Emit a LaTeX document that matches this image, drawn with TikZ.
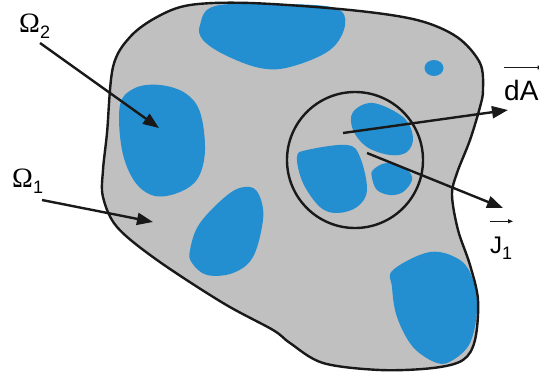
\documentclass[tikz,border=0pt]{standalone}
\usepackage{fontspec}
\setmainfont{Liberation Sans}
\newfontfamily\omegafont{Liberation Serif}
\usepackage{tikz}
\usetikzlibrary{arrows.meta, positioning, calc}
\definecolor{blobblue}{RGB}{36, 143, 208}
\definecolor{bodygray}{RGB}{192, 192, 192}

\begin{document}
\begin{tikzpicture}[
    x=1pt, y=-1pt,
    outline/.style={line width=2.4pt, black!90},
    blob/.style={fill=blobblue},
    lbl/.style={inner sep=0pt, anchor=base west},
    arrow/.style={-{Triangle[length=16pt, width=12pt]}, line width=2.4pt, black!90},
    overarrow/.style={-{Triangle[length=5pt, width=4pt]}, line width=1pt, black!90}
]
\useasboundingbox (0,0) rectangle (539,378);

% body
\fill[bodygray] plot[smooth cycle, tension=0.55] coordinates {
    (190,5) (250,3) (350,10) (417,20) (457,37) (480,63) (483,90) (480,107)
    (470,140) (457,173) (452,195) (458,230) (470,265) (478,300) (475,340)
    (463,360) (433,368) (380,370) (323,363) (290,343) (273,330) (223,303)
    (157,260) (117,227) (103,197) (103,170) (107,133) (113,67) (130,37) (157,17)};

% phase 2 inclusions
\fill[blob] plot[smooth cycle, tension=0.6] coordinates {
    (200,25) (215,6) (280,4) (335,8) (345,25) (330,50) (290,67) (260,68) (225,55) (203,40)};
\fill[blob] plot[smooth cycle, tension=0.6] coordinates {
    (120,105) (135,88) (160,85) (185,93) (200,112) (205,150) (198,178) (180,192)
    (155,196) (135,182) (122,150)};
\fill[blob] plot[smooth cycle, tension=0.6] coordinates {
    (190,250) (200,223) (230,193) (250,187) (260,197) (263,220) (253,257)
    (233,273) (207,275) (192,263)};
\fill[blob] plot[smooth cycle, tension=0.6] coordinates {
    (393,270) (430,252) (460,260) (473,280) (477,310) (470,343) (453,360)
    (437,363) (413,347) (397,317) (392,287)};
\fill[blob] (434,68) ellipse [x radius=9.5, y radius=8];

% inside the element dA
\fill[blob] plot[smooth cycle, tension=0.6] coordinates {
    (353,112) (373,103) (403,117) (413,137) (407,152) (390,155) (367,147) (353,130)};
\fill[blob] plot[smooth cycle, tension=0.6] coordinates {
    (297,157) (307,150) (347,145) (360,157) (367,190) (357,207) (337,213)
    (320,207) (303,183)};
\fill[blob] plot[smooth cycle, tension=0.6] coordinates {
    (373,170) (387,163) (407,170) (412,180) (403,192) (390,195) (377,190) (372,178)};

\draw[outline] plot[smooth cycle, tension=0.55] coordinates {
    (190,5) (250,3) (350,10) (417,20) (457,37) (480,63) (483,90) (480,107)
    (470,140) (457,173) (452,195) (458,230) (470,265) (478,300) (475,340)
    (463,360) (433,368) (380,370) (323,363) (290,343) (273,330) (223,303)
    (157,260) (117,227) (103,197) (103,170) (107,133) (113,67) (130,37) (157,17)};

\node[draw, circle, outline, minimum size=136pt, inner sep=0pt] (elem) at (355,160) {};

% labels
\node[lbl] (omega2) at (19,32) {\fontsize{28}{30}\selectfont{\omegafont Ω}\raisebox{-6pt}{\fontsize{18}{18}\selectfont 2}};
\node[lbl] (omega1) at (12,187) {\fontsize{28}{30}\selectfont{\omegafont Ω}\raisebox{-6pt}{\fontsize{18}{18}\selectfont 1}};
\node[lbl] (dA) at (504,100) {\fontsize{28}{32}\selectfont dA};
\node[lbl] (J1) at (490,253) {\fontsize{24}{28}\selectfont J\raisebox{-6pt}{\fontsize{18}{18}\selectfont 1}};

% vector bars
\draw[overarrow] ([yshift=12pt]dA.north west) -- ([yshift=12pt, xshift=4pt]dA.north east);
\draw[overarrow] ([yshift=15pt]J1.north west) -- ++(23,0);

\coordinate (omega2from) at (40,43);
\coordinate (omega2to) at (159,128);
\coordinate (omega1from) at (42,200);
\coordinate (omega1to) at (153,222);
\coordinate (dAfrom) at (343,133);
\coordinate (dAto) at (508,110);
\coordinate (J1from) at (367,153);
\coordinate (J1to) at (503,208);

\draw[arrow] (omega2from) -- (omega2to);
\draw[arrow] (omega1from) -- (omega1to);
\draw[arrow] (dAfrom) -- (dAto);
\draw[arrow] (J1from) -- (J1to);

\end{tikzpicture}
\end{document}
